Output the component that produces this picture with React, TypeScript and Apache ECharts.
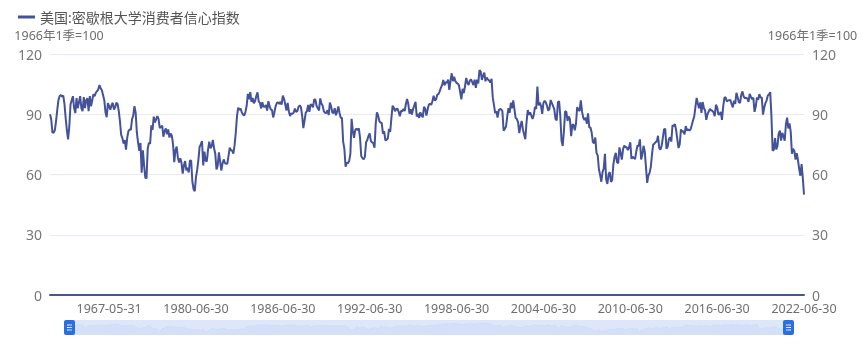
import React, { useEffect, useRef } from "react";
import * as echarts from "echarts";

const seriesName = "美国:密歇根大学消费者信心指数";
const unitName = "1966年1季=100";
const yMin = 0;
const yMax = 120;
const yStep = 30;

// Quarterly observations (Feb / May / Aug / Nov), starting 1955-02 through 1977-11
const quarterlyStart = { year: 1955, month: 2 };
const quarterlyValues = [
  90.0, 87.5, 81.0, 80.8, 82.0, 86.5, 92.0, 97.0, 99.1, 99.5,
  98.8, 99.3, 95.0, 88.0, 82.0, 77.5, 84.0, 94.8, 97.0, 99.0,
  93.0, 90.6, 98.0, 93.0, 96.0, 99.0, 93.0, 91.5, 98.5, 93.0,
  97.0, 98.0, 91.5, 99.0, 94.0, 97.0, 100.0, 99.0, 100.7, 101.5,
  102.3, 104.5, 103.0, 102.0, 99.5, 97.0, 91.0, 88.5, 95.5,
  94.0, 92.3, 94.5, 95.7, 92.3, 93.5, 95.7,
  95.1, 91.6, 86.4, 79.7,
  78.1, 75.4, 77.1, 72.4,
  78.2, 81.6, 82.4, 82.2,
  87.5, 89.3, 94.0, 90.8,
  80.8, 76.0, 71.8, 75.7,
  60.9, 72.0, 64.5, 58.4,
  58.0, 72.9, 75.8, 75.4,
  84.5, 82.2, 88.8, 86.0,
  87.5, 89.1, 87.6, 83.1,
];

// Monthly observations 1978-01 through 2022-06
const monthlyStart = { year: 1978, month: 1 };
const monthlyValues = [
  83.7, 84.3, 78.8, 81.6, 82.9, 80.0, 82.4, 78.4, 80.4, 79.3, 75.0, 66.1,
  72.1, 73.9, 68.4, 66.0, 68.1, 65.8, 60.4, 64.5, 66.7, 62.1, 63.3, 61.0,
  67.0, 66.9, 56.5, 52.7, 51.7, 58.7, 62.3, 67.3, 73.7, 75.0, 76.7, 64.5,
  71.4, 66.9, 66.5, 72.4, 76.3, 73.1, 74.1, 77.2, 73.1, 70.3, 62.5, 64.3,
  71.0, 66.5, 62.0, 65.5, 67.5, 65.7, 65.4, 65.4, 69.3, 73.4, 72.1, 71.9,
  70.4, 74.6, 80.8, 89.1, 93.3, 92.2, 92.8, 90.9, 89.9, 89.3, 91.1, 94.2,
  100.1, 97.4, 101.0, 96.1, 98.1, 95.5, 96.6, 99.1, 100.9, 96.3, 95.7, 92.9,
  96.0, 93.7, 93.7, 94.6, 91.8, 96.5, 94.0, 92.4, 92.1, 88.4, 90.9, 93.9,
  95.6, 95.9, 95.1, 96.2, 94.8, 99.3, 97.7, 94.9, 91.9, 95.6, 91.4, 89.1,
  90.4, 90.2, 90.8, 92.8, 91.1, 91.5, 93.7, 94.4, 93.6, 89.3, 83.1, 86.8,
  90.8, 91.6, 94.6, 91.2, 94.8, 94.7, 93.4, 97.4, 97.3, 94.1, 93.0, 91.9,
  97.9, 95.4, 94.3, 91.5, 90.7, 90.6, 92.0, 89.6, 95.8, 93.9, 90.9, 90.5,
  93.0, 89.5, 91.3, 93.9, 90.6, 88.3, 88.2, 76.4, 72.8, 63.9, 66.0, 65.5,
  66.8, 70.4, 87.7, 81.8, 78.3, 82.1, 82.9, 82.0, 83.0, 78.3, 69.1, 68.2,
  67.5, 68.8, 76.0, 77.2, 79.2, 80.4, 76.6, 76.1, 75.6, 73.3, 85.3, 91.0,
  89.3, 86.6, 85.9, 85.6, 80.3, 81.5, 77.0, 77.3, 77.9, 82.7, 81.2, 88.2,
  94.3, 93.2, 91.5, 92.6, 92.8, 91.2, 89.0, 91.7, 91.5, 92.7, 91.6, 95.1,
  97.6, 95.1, 90.3, 92.5, 89.8, 92.7, 94.4, 96.2, 88.9, 90.2, 88.2, 91.0,
  89.3, 88.5, 93.7, 92.7, 89.4, 92.4, 94.7, 95.3, 94.7, 96.5, 99.2, 96.9,
  97.4, 99.7, 100.0, 101.4, 103.2, 104.5, 107.1, 104.4, 106.0, 105.6, 107.2, 102.1,
  106.6, 110.4, 106.5, 108.7, 106.5, 105.6, 105.2, 104.4, 100.9, 97.4, 102.7, 100.5,
  103.9, 108.1, 105.7, 104.6, 106.8, 107.3, 106.0, 104.5, 107.2, 103.2, 107.2, 105.4,
  112.0, 111.3, 107.1, 109.2, 110.7, 106.4, 108.3, 107.3, 106.8, 105.8, 107.6, 98.4,
  94.7, 90.6, 91.5, 88.4, 92.0, 92.6, 92.4, 91.5, 81.8, 82.7, 83.9, 88.8,
  93.0, 90.7, 95.7, 93.0, 96.9, 92.4, 88.1, 87.6, 86.1, 80.6, 84.2, 86.7,
  82.4, 79.9, 77.6, 86.0, 92.1, 89.7, 90.9, 89.3, 87.7, 89.6, 93.7, 92.6,
  103.8, 94.4, 95.8, 94.2, 90.2, 95.6, 96.7, 95.9, 94.2, 91.7, 92.8, 97.1,
  95.5, 94.1, 92.6, 87.7, 86.9, 96.0, 96.5, 89.1, 76.9, 74.2, 81.6, 91.5,
  91.2, 86.7, 88.9, 87.4, 79.1, 84.9, 84.7, 82.0, 85.4, 93.6, 92.1, 91.7,
  96.9, 91.3, 88.4, 87.1, 88.3, 85.3, 90.4, 83.4, 83.4, 80.9, 76.1, 75.5,
  78.4, 70.8, 69.5, 62.6, 59.8, 56.4, 61.2, 63.0, 70.3, 57.6, 55.3, 60.1,
  61.2, 56.3, 57.3, 65.1, 68.7, 70.8, 66.0, 65.7, 73.5, 70.6, 67.4, 72.5,
  74.4, 73.6, 73.6, 72.2, 73.6, 76.0, 67.8, 68.9, 68.2, 67.7, 71.6, 74.5,
  74.2, 77.5, 67.5, 69.8, 74.3, 71.5, 63.7, 55.8, 59.5, 60.8, 63.7, 69.9,
  75.0, 75.3, 76.2, 76.4, 79.3, 73.2, 72.3, 74.3, 78.3, 82.6, 82.7, 72.9,
  73.8, 77.6, 78.6, 76.4, 84.5, 84.1, 85.1, 82.1, 77.5, 73.2, 75.1, 82.5,
  81.2, 81.6, 80.0, 84.1, 81.9, 82.5, 81.8, 82.5, 84.6, 86.9, 88.8, 93.6,
  98.1, 95.4, 93.0, 95.9, 90.7, 96.1, 93.1, 91.9, 87.2, 90.0, 91.3, 92.6,
  92.0, 91.7, 91.0, 89.0, 94.7, 93.5, 90.0, 89.8, 91.2, 87.2, 93.8, 98.2,
  98.5, 96.3, 96.9, 97.0, 97.1, 95.0, 93.4, 96.8, 95.1, 100.7, 98.5, 95.9,
  95.7, 99.7, 101.4, 98.8, 98.0, 98.2, 97.9, 96.2, 100.1, 98.6, 97.5, 98.3,
  91.2, 93.8, 98.4, 97.2, 100.0, 98.2, 98.4, 89.8, 93.2, 95.5, 96.8, 99.3,
  99.8, 101.0, 89.1, 71.8, 72.3, 78.1, 72.5, 74.1, 80.4, 81.8, 76.9, 80.7,
  79.0, 76.8, 84.9, 88.3, 82.9, 85.5, 81.2, 70.3, 72.8, 71.7, 67.4, 70.6,
  67.2, 62.8, 59.4, 65.2, 58.4, 50.0,
];

const firstLabelDate = "1967-05-31";
const labelStep = 72;

function pad(n: number) {
  return n < 10 ? "0" + n : "" + n;
}
function monthEnd(year: number, month: number) {
  const d = new Date(Date.UTC(year, month, 0)).getUTCDate();
  return `${year}-${pad(month)}-${pad(d)}`;
}
function buildDates(start: { year: number; month: number }, count: number, stepMonths: number) {
  const out: string[] = [];
  let y = start.year;
  let m = start.month;
  for (let i = 0; i < count; i++) {
    out.push(monthEnd(y, m));
    m += stepMonths;
    while (m > 12) {
      m -= 12;
      y += 1;
    }
  }
  return out;
}

const categories = [
  ...buildDates(quarterlyStart, quarterlyValues.length, 3),
  ...buildDates(monthlyStart, monthlyValues.length, 1),
];
const values = [...quarterlyValues, ...monthlyValues];

const FONT = "'Noto Sans', 'Noto Sans CJK SC', sans-serif";
const LINE_COLOR = "#44529a";

export default function App() {
  const ref = useRef<HTMLDivElement>(null);

  useEffect(() => {
    if (!ref.current) return;
    const chart = echarts.init(ref.current, null, { renderer: "svg" });
    const labelStart = categories.indexOf(firstLabelDate);

    const handleIcon =
      "path://M2,0H9A2,2,0,0,1,11,2V13A2,2,0,0,1,9,15H2A2,2,0,0,1,0,13V2A2,2,0,0,1,2,0Z" +
      "M3,4.4V5.6H8V4.4Z M3,6.9V8.1H8V6.9Z M3,9.4V10.6H8V9.4Z";

    const yAxisCommon = {
      type: "value",
      min: yMin,
      max: yMax,
      interval: yStep,
      name: unitName,
      nameLocation: "end",
      nameGap: 12,
      axisLine: { show: false },
      axisTick: { show: false },
      axisLabel: { color: "#777", fontSize: 14, margin: 8, fontFamily: FONT },
    };

    chart.setOption({
      animation: false,
      textStyle: { fontFamily: FONT },
      legend: {
        left: 13,
        top: 5,
        icon: "rect",
        itemWidth: 17,
        itemHeight: 3,
        itemGap: 10,
        textStyle: { color: "#555", fontSize: 14, fontFamily: FONT },
        data: [seriesName],
      },
      grid: { left: 50, right: 61, top: 54, bottom: 58, containLabel: false },
      xAxis: {
        type: "category",
        boundaryGap: false,
        data: categories,
        axisLine: { show: true, lineStyle: { color: "#4a5590", width: 2 } },
        axisTick: { show: false },
        splitLine: { show: false },
        axisLabel: {
          color: "#6e6e6e",
          fontSize: 12.5,
          margin: 7,
          fontFamily: FONT,
          interval: (i: number) => i >= labelStart && (i - labelStart) % labelStep === 0,
        },
      },
      yAxis: [
        {
          ...yAxisCommon,
          position: "left",
          nameTextStyle: { color: "#6e6e6e", fontSize: 12.5, align: "center", padding: [0, 0, 0, 18], fontFamily: FONT },
          splitLine: { show: true, lineStyle: { color: "#e8e9f4", width: 1 } },
        },
        {
          ...yAxisCommon,
          position: "right",
          nameTextStyle: { color: "#6e6e6e", fontSize: 12.5, align: "center", padding: [0, 0, 0, 17], fontFamily: FONT },
          splitLine: { show: false },
        },
      ],
      dataZoom: [
        {
          type: "slider",
          xAxisIndex: 0,
          start: 0,
          end: 100,
          left: 66,
          right: 78,
          top: 320,
          height: 15,
          showDetail: false,
          brushSelect: false,
          moveHandleSize: 0,
          borderColor: "transparent",
          backgroundColor: "rgba(0,0,0,0)",
          fillerColor: "rgba(170,196,240,0.4)",
          handleIcon,
          handleSize: "100%",
          handleStyle: { color: "#2b6ee0", borderColor: "#2b6ee0", borderWidth: 0 },
          dataBackground: {
            lineStyle: { color: "#c4d2ef", width: 0.5, opacity: 0.6 },
            areaStyle: { color: "#c4d2ef", opacity: 0.25 },
          },
          selectedDataBackground: {
            lineStyle: { color: "#c4d2ef", width: 0.5, opacity: 0.6 },
            areaStyle: { color: "#c4d2ef", opacity: 0.25 },
          },
        },
      ],
      series: [
        {
          name: seriesName,
          type: "line",
          data: values,
          yAxisIndex: 0,
          showSymbol: false,
          symbol: "none",
          smooth: false,
          lineStyle: { color: LINE_COLOR, width: 2 },
          itemStyle: { color: LINE_COLOR },
        },
      ],
    });

    return () => {
      chart.dispose();
    };
  }, []);

  return (
    <div
      ref={ref}
      style={{ position: "fixed", left: 0, top: 0, width: 865, height: 353 }}
    />
  );
}
